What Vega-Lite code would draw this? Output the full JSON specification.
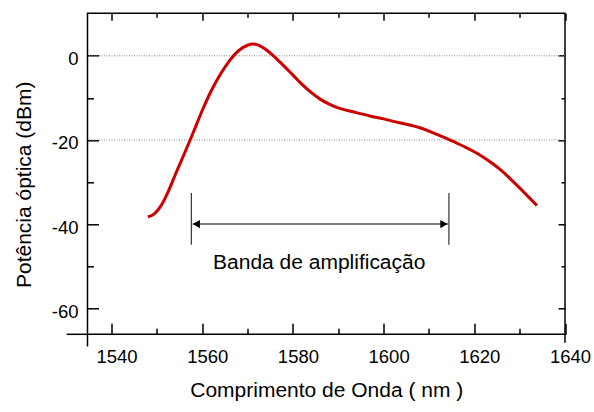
{
  "$schema": "https://vega.github.io/schema/vega-lite/v6.json",
  "width": 477.5,
  "height": 321,
  "autosize": {"type": "none"},
  "padding": {"left": 87.5, "top": 13.3, "right": 29, "bottom": 78},
  "background": "white",
  "config": {
    "font": "Liberation Sans",
    "view": {"stroke": "black", "strokeWidth": 1.5},
    "axis": {"labelColor": "black", "titleColor": "black", "tickColor": "black", "tickWidth": 1.5, "grid": false, "domain": false, "titleFontWeight": "normal"}
  },
  "datasets": {
    "spectrum": [
      {"nm": 1548.0, "dB": -38.3},
      {"nm": 1549.5, "dB": -37.5},
      {"nm": 1551.0, "dB": -35.5},
      {"nm": 1552.5, "dB": -32.3},
      {"nm": 1554.0, "dB": -28.4},
      {"nm": 1556.0, "dB": -23.4},
      {"nm": 1558.0, "dB": -18.3},
      {"nm": 1560.0, "dB": -13.0},
      {"nm": 1562.0, "dB": -8.3},
      {"nm": 1564.0, "dB": -4.4},
      {"nm": 1566.0, "dB": -1.2},
      {"nm": 1568.0, "dB": 1.2},
      {"nm": 1570.0, "dB": 2.5},
      {"nm": 1571.2, "dB": 2.8},
      {"nm": 1572.5, "dB": 2.5},
      {"nm": 1574.0, "dB": 1.5},
      {"nm": 1576.0, "dB": -0.3},
      {"nm": 1578.0, "dB": -2.4},
      {"nm": 1580.0, "dB": -4.6},
      {"nm": 1582.0, "dB": -6.8},
      {"nm": 1584.0, "dB": -8.7},
      {"nm": 1586.0, "dB": -10.3},
      {"nm": 1588.0, "dB": -11.5},
      {"nm": 1590.0, "dB": -12.4},
      {"nm": 1592.0, "dB": -13.0},
      {"nm": 1594.0, "dB": -13.5},
      {"nm": 1597.0, "dB": -14.3},
      {"nm": 1600.0, "dB": -15.0},
      {"nm": 1603.0, "dB": -15.8},
      {"nm": 1606.0, "dB": -16.5},
      {"nm": 1608.0, "dB": -17.1},
      {"nm": 1610.0, "dB": -17.9},
      {"nm": 1612.0, "dB": -18.8},
      {"nm": 1614.0, "dB": -19.7},
      {"nm": 1616.0, "dB": -20.7},
      {"nm": 1618.0, "dB": -21.7},
      {"nm": 1620.0, "dB": -22.8},
      {"nm": 1622.0, "dB": -24.1},
      {"nm": 1624.0, "dB": -25.6},
      {"nm": 1626.0, "dB": -27.3},
      {"nm": 1628.0, "dB": -29.3},
      {"nm": 1630.0, "dB": -31.4},
      {"nm": 1632.0, "dB": -33.6},
      {"nm": 1633.8, "dB": -35.6}
    ],
    "grid": [{"dB": 0}, {"dB": -20}],
    "frame": [
      {"nm": 1530.1, "nm2": 1534.7, "dB": -66.2, "dB2": -66.2},
      {"nm": 1534.7, "nm2": 1534.7, "dB": -66.2, "dB2": -69.1},
      {"nm": 1640, "nm2": 1640, "dB": -66.2, "dB2": -68.2}
    ],
    "band": [
      {"nm": 1557.6, "dB": -32.6, "dB2": -44.9},
      {"nm": 1614.4, "dB": -32.6, "dB2": -44.9}
    ],
    "arrow": [{"nm": 1557.9, "nm2": 1614.2, "dB": -40}],
    "heads": [
      {"nm": 1558.7, "dB": -40, "dir": "left"},
      {"nm": 1613.3, "dB": -40, "dir": "right"}
    ],
    "label": [{"nm": 1585.8, "dB": -49.3, "text": "Banda de amplificação"}]
  },
  "layer": [
    {
      "data": {"name": "grid"},
      "mark": {"type": "rule", "color": "#888888", "strokeWidth": 1, "strokeDash": [1, 1.5]},
      "encoding": {
        "y": {"field": "dB", "type": "quantitative", "scale": {"domain": [-66.2, 10.1], "nice": false, "zero": false}, "axis": null}
      }
    },
    {
      "data": {"name": "spectrum"},
      "mark": {"type": "line", "color": "#cc0000", "strokeWidth": 3, "interpolate": "monotone"},
      "encoding": {
        "x": {
          "field": "nm", "type": "quantitative",
          "scale": {"domain": [1534.7, 1640], "nice": false, "zero": false},
          "axis": {
            "orient": "bottom",
            "values": [1540, 1550, 1560, 1570, 1580, 1590, 1600, 1610, 1620, 1630, 1640],
            "tickSize": {"condition": {"test": "datum.value % 20 === 0", "value": -11}, "value": -6},
            "labelExpr": "datum.value % 20 === 0 ? '' + datum.value : ''",
            "labelFontSize": 18.5,
            "labelPadding": 24,
            "labelOffset": 5,
            "labelFlush": false,
            "title": "Comprimento de Onda ( nm )",
            "titleFontSize": 21,
            "titleBaseline": "alphabetic",
            "titleY": 62
          }
        },
        "y": {
          "field": "dB", "type": "quantitative",
          "scale": {"domain": [-66.2, 10.1], "nice": false, "zero": false},
          "axis": {
            "orient": "left",
            "values": [-60, -50, -40, -30, -20, -10, 0],
            "tickSize": {"condition": {"test": "datum.value % 20 === 0", "value": -11}, "value": -6},
            "labelExpr": "datum.value % 20 === 0 ? '' + datum.value : ''",
            "labelFontSize": 18.5,
            "labelPadding": 20.5,
            "labelOffset": 3,
            "labelFlush": false,
            "title": "Potência óptica (dBm)",
            "titleFontSize": 21,
            "titleBaseline": "alphabetic",
            "titleX": -57.5,
            "titleY": 171
          }
        }
      }
    },
    {
      "data": {"name": "frame"},
      "mark": {"type": "rule", "color": "black", "strokeWidth": 1.5, "clip": false},
      "encoding": {
        "x": {"field": "nm", "type": "quantitative", "axis": null},
        "x2": {"field": "nm2"},
        "y": {"field": "dB", "type": "quantitative", "axis": null},
        "y2": {"field": "dB2"}
      }
    },
    {
      "data": {"name": "band"},
      "mark": {"type": "rule", "color": "#333333", "strokeWidth": 1.2},
      "encoding": {
        "x": {"field": "nm", "type": "quantitative", "axis": null},
        "y": {"field": "dB", "type": "quantitative", "axis": null},
        "y2": {"field": "dB2"}
      }
    },
    {
      "data": {"name": "arrow"},
      "mark": {"type": "rule", "color": "#555555", "strokeWidth": 1.5},
      "encoding": {
        "x": {"field": "nm", "type": "quantitative", "axis": null},
        "x2": {"field": "nm2"},
        "y": {"field": "dB", "type": "quantitative", "axis": null}
      }
    },
    {
      "data": {"name": "heads"},
      "mark": {"type": "point", "filled": true, "color": "black", "opacity": 1, "size": 70},
      "encoding": {
        "x": {"field": "nm", "type": "quantitative", "axis": null},
        "y": {"field": "dB", "type": "quantitative", "axis": null},
        "shape": {"field": "dir", "type": "nominal", "scale": {"domain": ["left", "right"], "range": ["triangle-left", "triangle-right"]}, "legend": null}
      }
    },
    {
      "data": {"name": "label"},
      "mark": {"type": "text", "fontSize": 21, "color": "black", "baseline": "middle", "align": "center"},
      "encoding": {
        "text": {"field": "text"},
        "x": {
          "field": "nm", "type": "quantitative",
          "axis": {
            "orient": "top",
            "values": [1540, 1550, 1560, 1570, 1580, 1590, 1600, 1610, 1620, 1630, 1640],
            "tickSize": {"condition": {"test": "datum.value % 20 === 0", "value": -7}, "value": -4},
            "labels": false,
            "title": null
          }
        },
        "y": {
          "field": "dB", "type": "quantitative",
          "axis": {
            "orient": "right",
            "values": [-60, -50, -40, -30, -20, -10, 0],
            "tickSize": {"condition": {"test": "datum.value % 20 === 0", "value": -7}, "value": -4},
            "labels": false,
            "title": null
          }
        }
      }
    }
  ],
  "resolve": {"axis": {"x": "independent", "y": "independent"}}
}
